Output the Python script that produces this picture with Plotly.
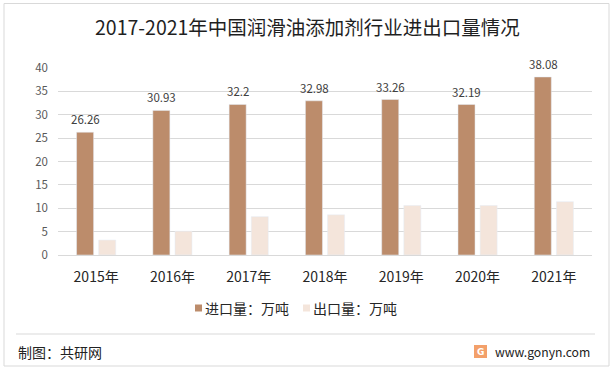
import plotly.graph_objects as go

years = ["2015年", "2016年", "2017年", "2018年", "2019年", "2020年", "2021年"]
imports = [26.26, 30.93, 32.2, 32.98, 33.26, 32.19, 38.08]
exports = [3.2, 5.1, 8.2, 8.6, 10.6, 10.6, 11.4]
import_labels = ["26.26", "30.93", "32.2", "32.98", "33.26", "32.19", "38.08"]
series_names = ["进口量：万吨", "出口量：万吨"]
series_colors = ["#BC8C6B", "#F4E5DB"]

FONT = "Noto Sans CJK SC"
L, R, T, B = 58, 21, 68, 119
W, H = 613, 374
PW, PH = W - L - R, H - T - B

def px(x):
    return (x - L) / PW

def py(y):
    return (H - B - y) / PH

fig = go.Figure()
fig.add_trace(go.Bar(x=years, y=imports, name=series_names[0],
                     marker_color=series_colors[0]))
fig.add_trace(go.Bar(x=years, y=exports, name=series_names[1],
                     marker_color=series_colors[1]))

shapes = [
    dict(type="rect", xref="paper", yref="paper",
         x0=px(4), x1=px(609), y0=py(366), y1=py(3.5),
         line=dict(color="#D9D9D9", width=1), fillcolor="rgba(0,0,0,0)", layer="below"),
    dict(type="line", xref="paper", yref="paper",
         x0=px(16), x1=px(595), y0=py(334), y1=py(334),
         line=dict(color="#D9D9D9", width=1)),
    dict(type="rect", xref="paper", yref="paper",
         x0=px(474), x1=px(487), y0=py(358), y1=py(345),
         line=dict(width=0), fillcolor="#F3A06A"),
]

annotations = [
    dict(text="2017-2021年中国润滑油添加剂行业进出口量情况", xref="paper", yref="paper",
         x=px(307), y=py(26), xanchor="center", yanchor="middle", showarrow=False,
         font=dict(size=19.5, color="#1f1f1f", family=FONT)),
    dict(text="制图：共研网", xref="paper", yref="paper",
         x=px(16), y=py(352), xanchor="left", yanchor="middle", showarrow=False,
         font=dict(size=14, color="#222222", family=FONT)),
    dict(text="<b>G</b>", xref="paper", yref="paper",
         x=px(480.5), y=py(351.5), xanchor="center", yanchor="middle", showarrow=False,
         borderpad=0, font=dict(size=9, color="white", family="DejaVu Sans")),
    dict(text="www.gonyn.com", xref="paper", yref="paper",
         x=px(591), y=py(352), xanchor="right", yanchor="middle", showarrow=False,
         borderpad=0, font=dict(size=12.2, color="#222222", family=FONT)),
]

# data labels on import bars (positioned via data coordinates)
for yr, v, lab in zip(years, imports, import_labels):
    annotations.append(dict(text=lab, x=yr, y=v, xref="x", yref="y",
                            xshift=-10.6, yshift=13, xanchor="center", yanchor="middle",
                            showarrow=False,
                            font=dict(size=11.5, color="#404040", family=FONT)))

# custom legend
legend_x = [195, 303]
for i, (nm, col) in enumerate(zip(series_names, series_colors)):
    x0 = legend_x[i]
    shapes.append(dict(type="rect", xref="paper", yref="paper",
                       x0=px(x0), x1=px(x0 + 7), y0=py(311.5), y1=py(304.5),
                       line=dict(width=0), fillcolor=col))
    annotations.append(dict(text=nm, xref="paper", yref="paper",
                            x=px(x0 + 8), y=py(308), xanchor="left", yanchor="middle",
                            showarrow=False,
                            font=dict(size=14, color="#262626", family=FONT)))

fig.update_layout(
    width=W, height=H,
    margin=dict(l=L, r=R, t=T, b=B, autoexpand=False),
    paper_bgcolor="white", plot_bgcolor="white",
    barmode="group", bargap=0.42, bargroupgap=0.23,
    font=dict(family=FONT),
    showlegend=False,
    xaxis=dict(showgrid=False, showline=True, linecolor="#D9D9D9", ticks="",
               ticklabelstandoff=9,
               tickfont=dict(size=14, color="#262626", family=FONT)),
    yaxis=dict(range=[0, 40], dtick=5, showgrid=True, gridcolor="#D9D9D9",
               zeroline=False, showline=False, ticks="", ticklabelstandoff=9,
               tickfont=dict(size=11.5, color="#595959", family=FONT)),
    shapes=shapes,
    annotations=annotations,
)

fig.write_html("out.html", config={"displayModeBar": False},
               post_script="document.body.style.margin='0';document.body.style.padding='0';")
